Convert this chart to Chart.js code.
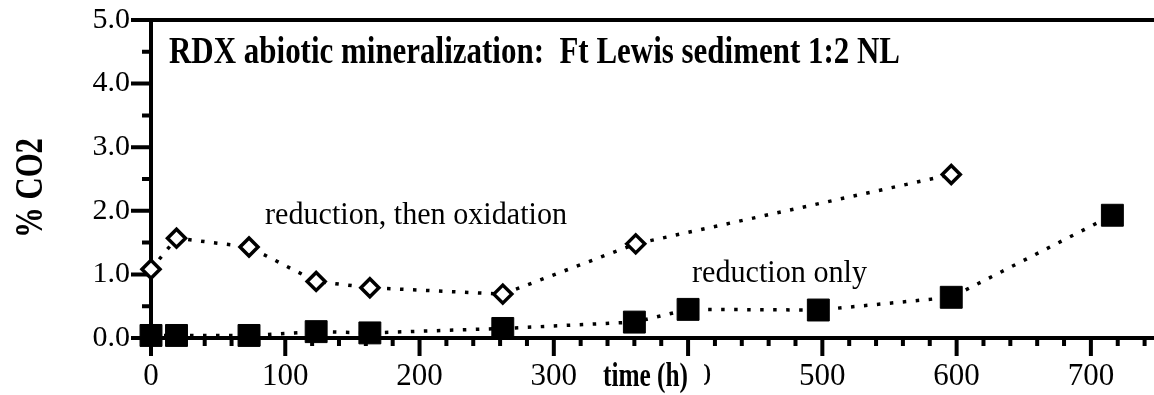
<!DOCTYPE html>
<html>
<head>
<meta charset="utf-8">
<style>
  html, body { margin: 0; padding: 0; background: #fff; }
</style>
</head>
<body>
<canvas id="myChart" width="1154" height="395"></canvas>
<script src="https://cdn.jsdelivr.net/npm/chart.js@4.4.1/dist/chart.umd.min.js"></script>
<script>
// values
const timeRedOx = [0, 19, 73, 123, 163, 262, 361, 596];
const co2RedOx = [1.08, 1.57, 1.43, 0.89, 0.79, 0.69, 1.48, 2.57];
const timeRed = [0, 19, 73, 123, 163, 262, 360, 400, 497, 596, 716];
const co2Red = [0.04, 0.04, 0.04, 0.10, 0.08, 0.15, 0.25, 0.45, 0.44, 0.64, 1.93];
const yMajor = [0, 1, 2, 3, 4, 5];
const xMajor = [0, 100, 200, 300, 400, 500, 600, 700];

const SERIF = '"Liberation Serif", "Times New Roman", serif';

function toPoints(xs, ys) {
  return xs.map(function (x, i) { return { x: x, y: ys[i] }; });
}

// draw text squeezed to a given length (the original uses a narrow Times)
function squeezeText(ctx, text, x, y, w, font, rot) {
  ctx.save();
  ctx.font = font;
  const m = ctx.measureText(text).width;
  ctx.translate(x, y);
  if (rot) ctx.rotate(rot);
  ctx.scale(w / m, 1);
  ctx.fillStyle = '#000';
  ctx.textAlign = 'left';
  ctx.textBaseline = 'alphabetic';
  ctx.fillText(text, 0, 0);
  ctx.restore();
}

// tick marks (major + minor) and top frame line
const tickMarks = {
  id: 'tickMarks',
  beforeDatasetsDraw(chart) {
    const ctx = chart.ctx;
    const xs = chart.scales.x;
    const ys = chart.scales.y;
    const area = chart.chartArea;
    ctx.save();
    ctx.strokeStyle = '#000';
    ctx.lineWidth = 4;
    ctx.lineCap = 'butt';
    ctx.beginPath();
    for (let v = 0; v <= 5.001; v += 0.5) {
      const py = ys.getPixelForValue(v);
      const len = Math.abs(v % 1) < 0.01 ? 20 : 9;
      ctx.moveTo(area.left, py);
      ctx.lineTo(area.left - len, py);
    }
    for (let v = 0; v <= 740; v += 20) {
      const px = xs.getPixelForValue(v);
      const len = v % 100 === 0 ? 18 : 8;
      ctx.moveTo(px, area.bottom);
      ctx.lineTo(px, area.bottom + len);
    }
    // top frame
    ctx.moveTo(area.left - 20, area.top);
    ctx.lineTo(chart.width, area.top);
    ctx.stroke();
    ctx.restore();
  }
};

// title, annotations, axis titles
const texts = {
  id: 'texts',
  afterDraw(chart) {
    const ctx = chart.ctx;
    squeezeText(ctx, 'RDX abiotic mineralization:  Ft Lewis sediment 1:2 NL', 169, 63, 731, 'bold 38px ' + SERIF);
    squeezeText(ctx, 'reduction, then oxidation', 265, 224, 302, '31px ' + SERIF);
    squeezeText(ctx, 'reduction only', 692, 282, 175, '31px ' + SERIF);
    squeezeText(ctx, '% CO2', 42, 238, 100, 'bold 40px ' + SERIF, -Math.PI / 2);
    // x title sits on a white box over the "400" label
    ctx.save();
    ctx.fillStyle = '#fff';
    ctx.fillRect(590, 358, 114, 37);
    ctx.restore();
    squeezeText(ctx, 'time (h)', 603, 386, 85, 'bold 33px ' + SERIF);
  }
};

const ctx = document.getElementById('myChart').getContext('2d');

// eslint-disable-next-line
const chart = new Chart(ctx, {
  type: 'scatter',
  data: {
    datasets: [
      {
        label: 'reduction, then oxidation',
        data: toPoints(timeRedOx, co2RedOx),
        showLine: true,
        borderColor: '#000',
        borderWidth: 3.5,
        borderDash: [3.5, 9.5],
        pointStyle: 'rectRot',
        pointRadius: 9,
        pointBorderWidth: 3.5,
        pointBackgroundColor: '#fff',
        pointBorderColor: '#000',
        clip: false,
      },
      {
        label: 'reduction only',
        data: toPoints(timeRed, co2Red),
        showLine: true,
        borderColor: '#000',
        borderWidth: 3.5,
        borderDash: [3.5, 9.5],
        pointStyle: 'rect',
        pointRadius: 15.5,
        pointBorderWidth: 1,
        pointBackgroundColor: '#000',
        pointBorderColor: '#000',
        clip: false,
      },
    ],
  },
  options: {
    responsive: false,
    animation: false,
    events: [],
    layout: { autoPadding: false, padding: { top: 20, right: 0, left: 0, bottom: 0 } },
    plugins: {
      legend: { display: false },
      tooltip: { enabled: false },
    },
    scales: {
      x: {
        type: 'linear',
        min: 0,
        max: 747,
        afterFit(scale) {
          scale.height = 57;
          scale.paddingLeft = 0;
          scale.paddingRight = 0;
        },
        grid: { display: false, drawTicks: false },
        border: { display: true, color: '#000', width: 4 },
        ticks: {
          color: '#000',
          font: { family: SERIF, size: 31 },
          padding: 20,
          stepSize: 20,
          autoSkip: false,
          maxRotation: 0,
          callback: function (v) { return xMajor.indexOf(v) >= 0 ? String(v) : ''; },
        },
      },
      y: {
        min: 0,
        max: 5,
        afterFit(scale) {
          scale.width = 151;
          scale.paddingTop = 0;
          scale.paddingBottom = 0;
        },
        grid: { display: false, drawTicks: false },
        border: { display: true, color: '#000', width: 4 },
        ticks: {
          color: '#000',
          font: { family: SERIF, size: 30 },
          padding: 21,
          stepSize: 1,
          callback: function (v) { return yMajor.indexOf(v) >= 0 ? v.toFixed(1) : ''; },
        },
      },
    },
  },
  plugins: [tickMarks, texts],
});
</script>
</body>
</html>
